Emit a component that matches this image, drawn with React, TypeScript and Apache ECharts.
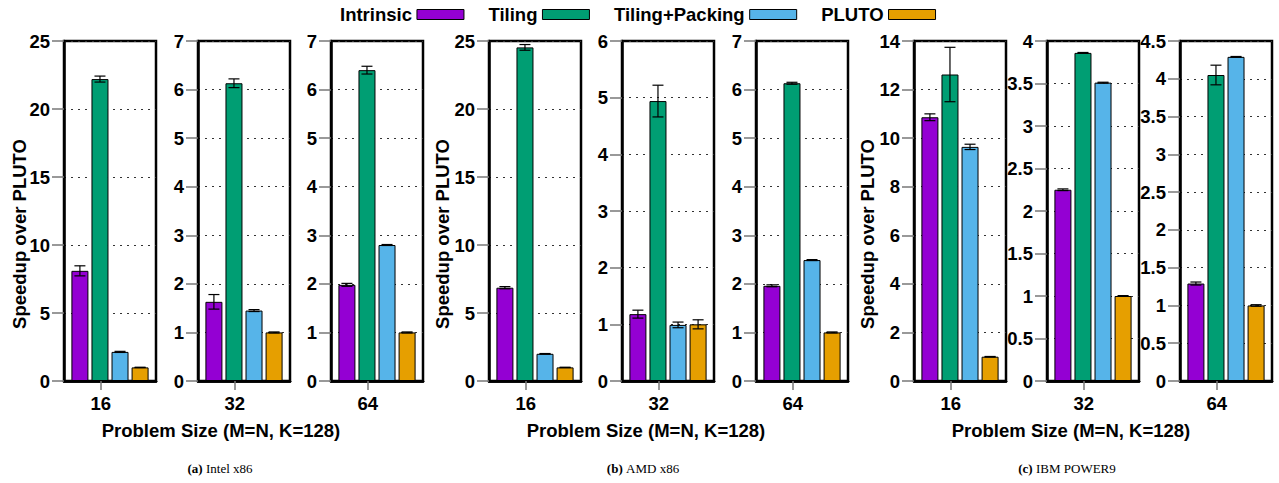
import React, { useEffect, useRef } from 'react';
import * as echarts from 'echarts';

const seriesNames = ['Intrinsic', 'Tiling', 'Tiling+Packing', 'PLUTO'];
const seriesColors = ['#9400D3', '#009E73', '#56B4E9', '#E69F00'];
const platformTags = ['(a)', '(b)', '(c)'];
const platformNames = ['Intel x86', 'AMD x86', 'IBM POWER9'];
const problemSizes = ['16', '32', '64'];
const yAxisTitle = 'Speedup over PLUTO';
const xAxisTitle = 'Problem Size (M=N, K=128)';

// Panels in order: Intel 16, 32, 64 | AMD 16, 32, 64 | IBM 16, 32, 64
const intrinsic = [8.1, 1.63, 1.98, 6.86, 1.18, 1.96, 10.86, 2.25, 1.29];
const intrinsicErr = [0.37, 0.15, 0.03, 0.08, 0.07, 0.02, 0.14, 0.01, 0.02];
const tiling = [22.2, 6.13, 6.4, 24.53, 4.94, 6.13, 12.62, 3.86, 4.05];
const tilingErr = [0.22, 0.09, 0.08, 0.21, 0.28, 0.02, 1.12, 0.005, 0.13];
const tilingPacking = [2.14, 1.45, 2.8, 2.0, 0.99, 2.49, 9.64, 3.51, 4.29];
const tilingPackingErr = [0.04, 0.02, 0.01, 0.02, 0.05, 0.01, 0.11, 0.005, 0.005];
const pluto = [1, 1, 1, 1, 1, 1, 1, 1, 1];
const plutoErr = [0.01, 0.01, 0.01, 0.01, 0.08, 0.01, 0.01, 0.005, 0.01];

const yMax = [25, 7, 7, 25, 6, 7, 14, 4, 4.5];
const yStep = [5, 1, 1, 5, 1, 1, 2, 0.5, 0.5];

const values = [intrinsic, tiling, tilingPacking, pluto];
const errors = [intrinsicErr, tilingErr, tilingPackingErr, plutoErr];

// layout
const PANEL_LEFT = [64, 198, 331, 489, 622, 756, 914, 1047, 1180];
const PANEL_W = 92;
const PANEL_TOP = 41;
const PANEL_H = 340;
const BAR_W = 17;
const BAR_GAP = 0.18;
const SPACING = BAR_W * (1 + BAR_GAP);
const FS = 18.5;
const FONT = '"Liberation Sans", Arial, Helvetica, sans-serif';
const SERIF = '"Liberation Serif", "Times New Roman", serif';
const Y_TITLE_X = [19, 442, 867];
const GROUP_CENTER_X = [221, 646, 1071];
const CAPTION_X = [220, 643, 1067];

export default function App() {
  const ref = useRef<HTMLDivElement>(null);

  useEffect(() => {
    document.body.style.margin = '0';
    if (!ref.current) return;
    const chart = echarts.init(ref.current, undefined, { renderer: 'svg' });

    const grids: any[] = [];
    const xAxes: any[] = [];
    const yAxes: any[] = [];
    const series: any[] = [];

    for (let i = 0; i < 9; i++) {
      const size = problemSizes[i % 3];
      grids.push({
        left: PANEL_LEFT[i],
        top: PANEL_TOP,
        width: PANEL_W,
        height: PANEL_H,
        show: true,
        borderColor: '#000',
        borderWidth: 2.5,
        backgroundColor: 'transparent',
      });
      xAxes.push({
        type: 'category',
        gridIndex: i,
        data: [size],
        axisLine: { show: true, lineStyle: { color: '#000', width: 2.5 } },
        axisTick: { show: false },
        axisLabel: { show: false },
        splitLine: { show: false },
      });
      xAxes.push({
        type: 'value',
        gridIndex: i,
        min: 0,
        max: 1,
        position: 'bottom',
        axisLine: { show: true, lineStyle: { color: '#000', width: 2.5 } },
        splitLine: { show: false },
        axisTick: {
          show: true,
          customValues: [0.4],
          length: 9,
          lineStyle: { color: '#777', width: 1.5 },
        },
        axisLabel: {
          show: true,
          customValues: [0.4],
          formatter: () => size,
          margin: 13,
          fontSize: FS,
          fontWeight: 'bold',
          color: '#000',
          fontFamily: FONT,
        },
      });
      yAxes.push({
        type: 'value',
        gridIndex: i,
        min: 0,
        max: yMax[i],
        interval: yStep[i],
        axisLine: { show: true, lineStyle: { color: '#000', width: 2.5 } },
        axisTick: { show: true, length: 12, lineStyle: { color: '#777', width: 1.5 } },
        axisLabel: {
          margin: 14,
          fontSize: FS,
          fontWeight: 'bold',
          color: '#000',
          fontFamily: FONT,
          formatter: (v: number) => String(v),
        },
        splitLine: { show: true, lineStyle: { color: '#333', type: [2, 5], width: 1 } },
      });

      for (let k = 0; k < 4; k++) {
        series.push({
          type: 'bar',
          name: seriesNames[k],
          xAxisIndex: 2 * i,
          yAxisIndex: i,
          data: [values[k][i]],
          barWidth: BAR_W,
          barGap: `${BAR_GAP * 100}%`,
          itemStyle: { color: seriesColors[k], borderColor: '#000', borderWidth: 1 },
          z: 2,
        });
      }

      series.push({
        type: 'custom',
        xAxisIndex: 2 * i,
        yAxisIndex: i,
        z: 5,
        silent: true,
        data: seriesNames.map((_, k) => [0, values[k][i] - errors[k][i], values[k][i] + errors[k][i], k]),
        renderItem: (params: any, api: any) => {
          const k = api.value(3);
          const lo = api.coord([api.value(0), api.value(1)]);
          const hi = api.coord([api.value(0), api.value(2)]);
          const x = lo[0] + (k - 1.5) * SPACING;
          const cap = 5.5;
          const style = { stroke: '#000', lineWidth: 1.2 };
          return {
            type: 'group',
            children: [
              { type: 'line', shape: { x1: x, y1: lo[1], x2: x, y2: hi[1] }, style },
              { type: 'line', shape: { x1: x - cap, y1: lo[1], x2: x + cap, y2: lo[1] }, style },
              { type: 'line', shape: { x1: x - cap, y1: hi[1], x2: x + cap, y2: hi[1] }, style },
            ],
          };
        },
      });
    }

    const graphics: any[] = [];
    for (let g = 0; g < 3; g++) {
      graphics.push({
        type: 'text',
        x: Y_TITLE_X[g],
        y: 234,
        rotation: Math.PI / 2,
        style: {
          text: yAxisTitle,
          fontSize: FS,
          fontWeight: 'bold',
          fontFamily: FONT,
          fill: '#000',
          align: 'center',
          verticalAlign: 'middle',
        },
      });
      graphics.push({
        type: 'text',
        x: GROUP_CENTER_X[g],
        y: 430,
        style: {
          text: xAxisTitle,
          fontSize: FS,
          fontWeight: 'bold',
          fontFamily: FONT,
          fill: '#000',
          align: 'center',
          verticalAlign: 'middle',
        },
      });
      graphics.push({
        type: 'text',
        x: CAPTION_X[g],
        y: 468,
        style: {
          text: `{b|${platformTags[g]}} {n|${platformNames[g]}}`,
          align: 'center',
          verticalAlign: 'middle',
          fill: '#000',
          rich: {
            b: { fontSize: 13, fontWeight: 'bold', fontFamily: SERIF, fill: '#000' },
            n: { fontSize: 13, fontWeight: 'normal', fontFamily: SERIF, fill: '#000' },
          },
        },
      });
    }

    chart.setOption({
      animation: false,
      backgroundColor: '#fff',
      legend: {
        left: 335,
        top: 0,
        align: 'right',
        itemWidth: 47,
        itemHeight: 10,
        itemGap: 24,
        icon: 'rect',
        data: seriesNames,
        textStyle: { fontSize: FS, fontWeight: 'bold', color: '#000', fontFamily: FONT },
        itemStyle: { borderColor: '#000', borderWidth: 1 },
      },
      grid: grids,
      xAxis: xAxes,
      yAxis: yAxes,
      series,
      graphic: graphics,
    });

    return () => chart.dispose();
  }, []);

  return <div ref={ref} style={{ width: 1279, height: 483 }} />;
}
